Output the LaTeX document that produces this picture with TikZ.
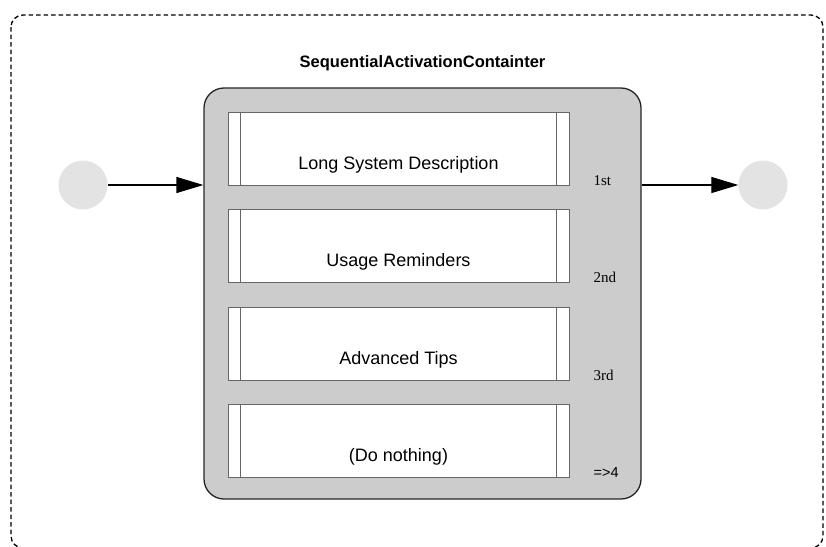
\documentclass[tikz,border=0pt]{standalone}
\usepackage{fontspec}
\setmainfont{Liberation Sans}
\newfontfamily\ordfont{Liberation Serif}
\usetikzlibrary{arrows.meta,positioning}

\tikzset{
  container/.style={draw=black!85,line width=1.3pt,fill=black!20,rounded corners=20pt,
    minimum width=437pt,minimum height=411pt,inner sep=0pt},
  stepbox/.style={draw=black!60,line width=0.8pt,fill=white,
    minimum width=341pt,minimum height=73pt,inner sep=0pt},
  steptext/.style={font=\fontsize{18}{20}\selectfont,anchor=base,inner sep=0pt},
  ordtext/.style={font=\ordfont\fontsize{15}{17}\selectfont,anchor=base west,inner sep=0pt},
  endpoint/.style={circle,fill=black!11,minimum size=49pt,inner sep=0pt},
  flow/.style={line width=1.3pt,-{Triangle[length=27pt,width=16pt]}}
}

\begin{document}
\begin{tikzpicture}[x=1pt,y=-1pt]
  \useasboundingbox (0,0) rectangle (826,546);
  \clip (0,0) rectangle (826,546);
  % frame
  \draw[black,line width=1.3pt,dash pattern=on 4.5pt off 3pt,rounded corners=12pt] (11,15) rectangle (823,548);

  % container
  \node[container] (cont) at (422.5,293.5) {};
  \node[font=\bfseries\fontsize{16.5}{18}\selectfont,anchor=base,inner sep=0pt] (title)
    at ([yshift=19.5pt]cont.north) {SequentialActivationContainter};

  % steps
  \node[stepbox] (s1) at (398.5,148.5) {};
  \node[stepbox] (s2) at (398.5,245.5) {};
  \node[stepbox] (s3) at (398.5,343.5) {};
  \node[stepbox] (s4) at (398.5,440.5) {};
  \foreach \s in {s1,s2,s3,s4}{
    \draw[black!60,line width=0.8pt] ([xshift=13pt]\s.north west) -- ([xshift=13pt]\s.south west);
    \draw[black!60,line width=0.8pt] ([xshift=-13pt]\s.north east) -- ([xshift=-13pt]\s.south east);
  }
  \node[steptext] (t1) at ([yshift=16pt]s1.south) {Long System Description};
  \node[steptext] (t2) at ([yshift=16pt]s2.south) {Usage Reminders};
  \node[steptext] (t3) at ([yshift=16pt]s3.south) {Advanced Tips};
  \node[steptext] (t4) at ([yshift=16pt]s4.south) {(Do nothing)};

  % order
  \node[ordtext] (o1) at ([xshift=24pt]s1.south east) {1st};
  \node[ordtext] (o2) at ([xshift=24pt]s2.south east) {2nd};
  \node[ordtext] (o3) at ([xshift=24pt]s3.south east) {3rd};
  \node[ordtext,font=\fontsize{14.5}{16}\selectfont] (o4) at ([xshift=24pt]s4.south east) {=>4};

  % start and end
  \node[endpoint] (start) at (83,185) {};
  \node[endpoint] (stop) at (763,185) {};
  \draw[flow] (start) -- (start -| cont.west);
  \draw[flow] (stop -| cont.east) -- (stop);
\end{tikzpicture}
\end{document}
